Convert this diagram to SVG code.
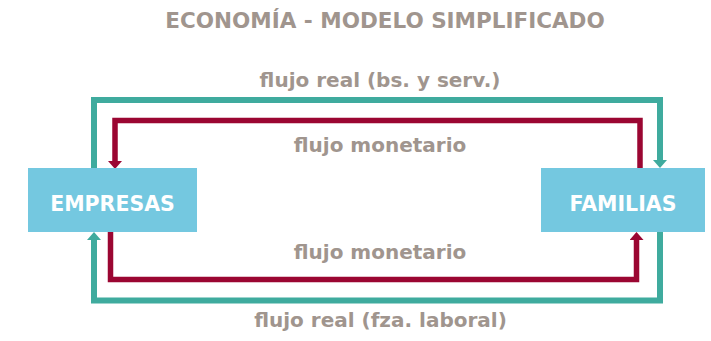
<svg xmlns="http://www.w3.org/2000/svg" width="711" height="341" viewBox="0 0 711 341">
<style>
.t{font-family:"DejaVu Sans",sans-serif;font-weight:bold;fill:#A0958E;text-anchor:middle}
.box{fill:#74C8E0}
.lbl{font-family:"DejaVu Sans",sans-serif;font-weight:bold;fill:#FFFFFF;font-size:20.5px;text-anchor:middle}
.teal{fill:none;stroke:#3FAB9E;stroke-width:6}
.red{fill:none;stroke:#9B0632;stroke-width:5.5}
</style>
<defs>
<marker id="aT" markerUnits="userSpaceOnUse" viewBox="0 0 8 14" refX="0" refY="7" markerWidth="8" markerHeight="14" orient="auto">
<path d="M0,0 L8,7 L0,14 Z" fill="#3FAB9E"/>
</marker>
<marker id="aR" markerUnits="userSpaceOnUse" viewBox="0 0 8 14" refX="0" refY="7" markerWidth="8" markerHeight="14" orient="auto">
<path d="M0,0 L8,7 L0,14 Z" fill="#9B0632"/>
</marker>
</defs>
<text class="t" x="385" y="28" font-size="21.5">ECONOMÍA - MODELO SIMPLIFICADO</text>
<g id="connectors">
<path class="teal" d="M94,168 V100 H660 V160" marker-end="url(#aT)"/>
<path class="red" d="M640,168 V120.5 H115 V161" marker-end="url(#aR)"/>
<path class="red" d="M110.5,232 V279.5 H636.5 V240" marker-end="url(#aR)"/>
<path class="teal" d="M660,232 V300.5 H94 V240" marker-end="url(#aT)"/>
<text class="t" x="380" y="87" font-size="20">flujo real (bs. y serv.)</text>
<text class="t" x="380" y="152" font-size="20">flujo monetario</text>
<text class="t" x="380" y="259" font-size="20">flujo monetario</text>
<text class="t" x="380.5" y="327" font-size="20">flujo real (fza. laboral)</text>
</g>
<g id="empresas">
<rect class="box" x="28" y="168" width="169" height="64"/>
<text class="lbl" x="112.5" y="211">EMPRESAS</text>
</g>
<g id="familias">
<rect class="box" x="541" y="168" width="164" height="64"/>
<text class="lbl" x="623" y="211">FAMILIAS</text>
</g>
</svg>
